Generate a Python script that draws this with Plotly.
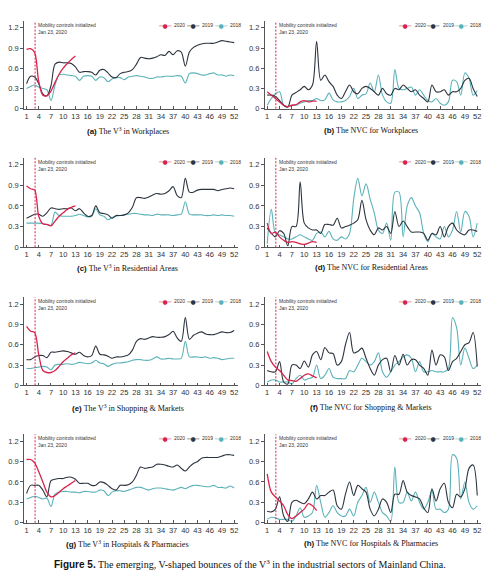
import plotly.graph_objects as go

weeks = list(range(1, 53))
weeks_2020 = list(range(1, 14))
tick_weeks = list(range(1, 53, 3))
y_ticks = [0, 0.3, 0.6, 0.9, 1.2]

# (a) V3 Workplaces
a_2020 = [0.88, 0.89, 0.83, 0.40, 0.20, 0.19, 0.26, 0.39, 0.51, 0.60, 0.67, 0.73, 0.78]
a_2019 = [0.37, 0.48, 0.47, 0.37, 0.22, 0.19, 0.34, 0.66, 0.69, 0.68, 0.68, 0.67, 0.62, 0.54, 0.55, 0.55, 0.54, 0.50, 0.57, 0.58, 0.53, 0.47, 0.46, 0.52, 0.54, 0.55, 0.58, 0.66, 0.76, 0.75, 0.74, 0.75, 0.77, 0.80, 0.79, 0.85, 0.80, 0.86, 0.84, 0.63, 0.84, 0.91, 0.94, 0.96, 0.97, 0.97, 0.97, 0.99, 1.01, 1.00, 0.99, 0.98]
a_2018 = [0.30, 0.33, 0.35, 0.32, 0.30, 0.28, 0.12, 0.35, 0.50, 0.51, 0.50, 0.49, 0.48, 0.42, 0.48, 0.49, 0.48, 0.42, 0.47, 0.46, 0.40, 0.44, 0.46, 0.46, 0.43, 0.47, 0.48, 0.49, 0.48, 0.47, 0.45, 0.45, 0.47, 0.47, 0.48, 0.48, 0.48, 0.49, 0.48, 0.38, 0.52, 0.53, 0.52, 0.50, 0.50, 0.52, 0.53, 0.50, 0.50, 0.48, 0.50, 0.49]

# (b) NVC Workplaces
b_2020 = [0.25, 0.20, 0.15, 0.10, 0.05, 0.03, 0.05, 0.06, 0.10, 0.12, 0.10, 0.11, 0.11]
b_2019 = [0.20, 0.20, 0.18, 0.12, 0.05, 0.02, 0.20, 0.24, 0.28, 0.33, 0.28, 0.35, 1.00, 0.42, 0.50, 0.40, 0.33, 0.20, 0.15, 0.25, 0.35, 0.25, 0.22, 0.30, 0.33, 0.30, 0.25, 0.20, 0.30, 0.22, 0.20, 0.30, 0.28, 0.35, 0.30, 0.25, 0.28, 0.20, 0.15, 0.10, 0.35, 0.25, 0.25, 0.28, 0.20, 0.25, 0.25, 0.30, 0.42, 0.45, 0.30, 0.18]
b_2018 = [0.05, 0.15, 0.22, 0.25, 0.05, 0.03, 0.05, 0.05, 0.08, 0.10, 0.12, 0.12, 0.15, 0.12, 0.13, 0.23, 0.13, 0.10, 0.10, 0.12, 0.18, 0.30, 0.15, 0.20, 0.22, 0.38, 0.25, 0.50, 0.20, 0.10, 0.08, 0.58, 0.30, 0.28, 0.30, 0.32, 0.20, 0.28, 0.20, 0.12, 0.10, 0.15, 0.08, 0.05, 0.10, 0.42, 0.40, 0.20, 0.53, 0.45, 0.20, 0.27]

# (c) V3 Residential
c_2020 = [0.89, 0.85, 0.83, 0.45, 0.34, 0.33, 0.31, 0.38, 0.45, 0.50, 0.55, 0.58, 0.60]
c_2019 = [0.42, 0.45, 0.48, 0.48, 0.45, 0.50, 0.57, 0.56, 0.55, 0.56, 0.56, 0.57, 0.53, 0.56, 0.50, 0.45, 0.46, 0.60, 0.50, 0.49, 0.47, 0.42, 0.46, 0.46, 0.47, 0.50, 0.58, 0.72, 0.72, 0.71, 0.73, 0.76, 0.78, 0.77, 0.78, 0.82, 0.88, 0.75, 0.72, 1.00, 0.80, 0.80, 0.83, 0.84, 0.84, 0.84, 0.84, 0.82, 0.84, 0.85, 0.86, 0.85]
c_2018 = [0.35, 0.35, 0.35, 0.35, 0.34, 0.33, 0.32, 0.51, 0.46, 0.45, 0.45, 0.45, 0.46, 0.48, 0.46, 0.44, 0.45, 0.56, 0.47, 0.45, 0.40, 0.43, 0.45, 0.46, 0.47, 0.48, 0.49, 0.49, 0.48, 0.47, 0.47, 0.46, 0.48, 0.47, 0.47, 0.47, 0.46, 0.47, 0.48, 0.66, 0.48, 0.47, 0.47, 0.47, 0.46, 0.46, 0.47, 0.46, 0.47, 0.46, 0.46, 0.45]

# (d) NVC Residential
d_2020 = [0.35, 0.20, 0.22, 0.15, 0.10, 0.07, 0.08, 0.07, 0.05, 0.04, 0.06, 0.08, 0.07]
d_2019 = [0.28, 0.20, 0.15, 0.24, 0.20, 0.02, 0.30, 0.30, 0.95, 0.35, 0.28, 0.25, 0.25, 0.20, 0.33, 0.33, 0.32, 0.42, 0.28, 0.30, 0.32, 0.35, 0.40, 0.68, 0.40, 0.25, 0.18, 0.28, 0.25, 0.30, 0.20, 0.52, 0.30, 0.38, 0.30, 0.22, 0.22, 0.22, 0.20, 0.10, 0.20, 0.18, 0.30, 0.15, 0.30, 0.35, 0.25, 0.20, 0.18, 0.25, 0.25, 0.23]
d_2018 = [0.05, 0.55, 0.20, 0.18, 0.15, 0.12, 0.12, 0.15, 0.18, 0.15, 0.12, 0.10, 0.20, 0.22, 0.15, 0.23, 0.12, 0.10, 0.15, 0.12, 0.20, 0.70, 1.00, 0.75, 0.92, 0.70, 0.50, 0.25, 0.20, 0.35, 0.10, 0.80, 0.80, 0.15, 0.60, 0.72, 0.60, 0.50, 0.20, 0.08, 0.20, 0.15, 0.12, 0.30, 0.15, 0.25, 0.52, 0.22, 0.52, 0.45, 0.15, 0.35]

# (e) V3 Shopping & Markets
e_2020 = [0.87, 0.80, 0.78, 0.45, 0.22, 0.19, 0.19, 0.22, 0.28, 0.35, 0.40, 0.45, 0.48]
e_2019 = [0.38, 0.38, 0.42, 0.44, 0.44, 0.41, 0.49, 0.49, 0.50, 0.51, 0.50, 0.48, 0.46, 0.49, 0.44, 0.42, 0.44, 0.58, 0.46, 0.45, 0.43, 0.40, 0.42, 0.42, 0.43, 0.45, 0.52, 0.65, 0.69, 0.68, 0.70, 0.72, 0.71, 0.71, 0.72, 0.75, 0.80, 0.70, 0.65, 1.00, 0.68, 0.74, 0.77, 0.79, 0.76, 0.75, 0.75, 0.77, 0.79, 0.78, 0.78, 0.81]
e_2018 = [0.25, 0.25, 0.26, 0.27, 0.28, 0.27, 0.23, 0.30, 0.31, 0.31, 0.32, 0.31, 0.32, 0.34, 0.33, 0.32, 0.33, 0.37, 0.33, 0.32, 0.28, 0.31, 0.33, 0.33, 0.34, 0.35, 0.37, 0.38, 0.38, 0.37, 0.37, 0.39, 0.42, 0.39, 0.39, 0.40, 0.39, 0.39, 0.40, 0.65, 0.42, 0.42, 0.42, 0.41, 0.42, 0.40, 0.41, 0.40, 0.38, 0.39, 0.40, 0.40]

# (f) NVC Shopping & Markets
f_2020 = [0.50, 0.35, 0.27, 0.22, 0.15, 0.08, 0.07, 0.06, 0.10, 0.15, 0.17, 0.14, 0.11]
f_2019 = [0.22, 0.20, 0.20, 0.35, 0.05, 0.02, 0.30, 0.30, 0.25, 0.36, 0.27, 0.45, 0.50, 0.38, 0.56, 0.48, 0.47, 0.30, 0.35, 0.60, 0.78, 0.48, 0.50, 0.55, 0.40, 0.25, 0.15, 0.30, 0.38, 0.40, 0.20, 0.44, 0.30, 0.46, 0.30, 0.38, 0.38, 0.30, 0.25, 0.15, 0.52, 0.30, 0.45, 0.42, 0.22, 0.35, 0.40, 0.50, 0.60, 0.63, 0.78, 0.28]
f_2018 = [0.05, 0.08, 0.08, 0.05, 0.05, 0.05, 0.02, 0.10, 0.15, 0.08, 0.10, 0.12, 0.30, 0.10, 0.15, 0.25, 0.12, 0.10, 0.10, 0.10, 0.22, 0.20, 0.30, 0.40, 0.35, 0.30, 0.35, 0.48, 0.20, 0.12, 0.20, 0.30, 0.35, 0.42, 0.45, 0.40, 0.20, 0.35, 0.20, 0.20, 0.22, 0.20, 0.20, 0.20, 0.25, 1.00, 0.85, 0.30, 0.55, 0.40, 0.25, 0.30]

# (g) V3 Hospitals & Pharmacies
g_2020 = [0.93, 0.93, 0.88, 0.75, 0.60, 0.45, 0.38, 0.40, 0.45, 0.50, 0.54, 0.58, 0.62]
g_2019 = [0.43, 0.55, 0.55, 0.55, 0.48, 0.38, 0.62, 0.64, 0.65, 0.65, 0.67, 0.67, 0.64, 0.58, 0.58, 0.58, 0.55, 0.55, 0.60, 0.59, 0.55, 0.50, 0.48, 0.55, 0.55, 0.56, 0.60, 0.70, 0.82, 0.80, 0.81, 0.82, 0.86, 0.86, 0.85, 0.83, 0.82, 0.85, 0.80, 0.76, 0.82, 0.87, 0.90, 0.95, 0.96, 0.96, 0.96, 0.96, 0.98, 1.00, 1.00, 0.99]
g_2018 = [0.35, 0.37, 0.39, 0.37, 0.35, 0.36, 0.24, 0.42, 0.45, 0.46, 0.46, 0.45, 0.45, 0.44, 0.46, 0.46, 0.45, 0.45, 0.48, 0.47, 0.40, 0.45, 0.47, 0.47, 0.46, 0.48, 0.50, 0.52, 0.52, 0.50, 0.48, 0.50, 0.51, 0.51, 0.50, 0.49, 0.48, 0.50, 0.52, 0.50, 0.53, 0.55, 0.55, 0.54, 0.53, 0.53, 0.55, 0.52, 0.52, 0.51, 0.54, 0.51]

# (h) NVC Hospitals & Pharmacies
h_2020 = [0.72, 0.45, 0.38, 0.32, 0.25, 0.12, 0.06, 0.10, 0.15, 0.20, 0.28, 0.25, 0.18]
h_2019 = [0.17, 0.16, 0.20, 0.38, 0.10, 0.02, 0.30, 0.33, 0.30, 0.28, 0.35, 0.45, 0.35, 0.40, 0.40, 0.45, 0.48, 0.25, 0.20, 0.42, 0.60, 0.40, 0.55, 0.50, 0.45, 0.20, 0.10, 0.20, 0.35, 0.30, 0.15, 0.42, 0.42, 0.62, 0.45, 0.40, 0.38, 0.35, 0.22, 0.15, 0.50, 0.32, 0.50, 0.58, 0.30, 0.22, 0.42, 0.38, 0.50, 0.80, 0.85, 0.40]
h_2018 = [0.05, 0.08, 0.07, 0.05, 0.05, 0.05, 0.02, 0.10, 0.22, 0.08, 0.10, 0.15, 0.55, 0.30, 0.08, 0.15, 0.25, 0.15, 0.10, 0.10, 0.20, 0.10, 0.30, 0.40, 0.52, 0.30, 0.45, 0.30, 0.15, 0.10, 0.02, 0.82, 0.30, 0.30, 0.45, 0.32, 0.45, 0.30, 0.20, 0.30, 0.48, 0.20, 0.20, 0.15, 0.20, 1.00, 0.95, 0.35, 0.60, 0.30, 0.20, 0.25]

panels = [
    ("a", "The V<sup>3</sup> in Workplaces", a_2020, a_2019, a_2018),
    ("b", "The NVC for Workplaces", b_2020, b_2019, b_2018),
    ("c", "The V<sup>3</sup> in Residential Areas", c_2020, c_2019, c_2018),
    ("d", "The NVC for Residential Areas", d_2020, d_2019, d_2018),
    ("e", "The V<sup>3</sup> in Shopping &amp; Markets", e_2020, e_2019, e_2018),
    ("f", "The NVC for Shopping &amp; Markets", f_2020, f_2019, f_2018),
    ("g", "The V<sup>3</sup> in Hospitals &amp; Pharmacies", g_2020, g_2019, g_2018),
    ("h", "The NVC for Hospitals &amp; Pharmacies", h_2020, h_2019, h_2018),
]
legend_names = ["2020", "2019", "2018"]

C2020 = "#d8244c"
C2019 = "#2c343f"
C2018 = "#5bb3b9"
COLORS = {"2020": C2020, "2019": C2019, "2018": C2018}
SANS = "Liberation Sans"
SERIF = "Liberation Serif"

# the page body adds an 8px offset; lay out in window pixels and convert
OFF = 8
W, H = 500 - OFF, 579 - OFF


def fx(px):
    return (px - OFF) / W


def fy(py):
    return 1 - (py - OFF) / H


col_px = [(20.2, 236.1), (262.8, 481.2)]
row_px = [(21.2, 109.5), (159.1, 249.3), (299.9, 388.7), (438.1, 527.3)]
caption_px = [132, 270, 411.5, 548.5]
caption_cx = [124.5, 370]
legend_offsets = [(-74.3, -46.0, -17.7), (-76.7, -48.3, -21.0)]

fig = go.Figure()
layout = dict(
    width=W, height=H, margin=dict(l=0, r=0, t=0, b=0),
    paper_bgcolor="white", plot_bgcolor="white", showlegend=False,
    font=dict(family=SANS, size=7, color="#333333"),
    annotations=[], shapes=[],
)

for i, (letter, title, s20, s19, s18) in enumerate(panels):
    r, c = divmod(i, 2)
    n = i + 1
    xa = "x" if n == 1 else f"x{n}"
    ya = "y" if n == 1 else f"y{n}"
    for name, xs, ys in [("2018", weeks, s18), ("2019", weeks, s19), ("2020", weeks_2020, s20)]:
        fig.add_trace(go.Scatter(
            x=xs, y=ys, mode="lines", name=name, xaxis=xa, yaxis=ya,
            line=dict(color=COLORS[name], width=1.3 if name == "2020" else 1.1,
                      shape="spline", smoothing=0.9),
            hoverinfo="skip"))
    axkey = "xaxis" if n == 1 else f"xaxis{n}"
    aykey = "yaxis" if n == 1 else f"yaxis{n}"
    x0, x1 = col_px[c]
    top, bot = row_px[r]
    layout[axkey] = dict(
        domain=[fx(x0), fx(x1)], anchor=ya, range=[0.4, 53], tickvals=tick_weeks,
        showgrid=False, zeroline=False, showline=True, linecolor="#555555", linewidth=0.8,
        ticks="inside", ticklen=2.5, tickwidth=0.7, tickcolor="#555555",
        tickfont=dict(size=7.5, family=SANS, color="#333333"))
    layout[aykey] = dict(
        domain=[fy(bot), fy(top)], anchor=xa, range=[0, 1.3], tickvals=y_ticks,
        showgrid=False, zeroline=False, showline=True, linecolor="#555555", linewidth=0.8,
        ticks="outside", ticklen=3, tickwidth=0.7, tickcolor="#555555",
        tickfont=dict(size=7.5, family=SANS, color="#333333"))
    layout["shapes"].append(dict(
        type="line", xref=xa, yref=f"{ya} domain", x0=3.1, x1=3.1, y0=0, y1=1,
        line=dict(color=C2020, width=1, dash="2px,1.5px")))
    layout["annotations"].append(dict(
        xref=xa, yref=f"{ya} domain", x=3.1, y=1.0, xanchor="left", yanchor="top",
        xshift=1, yshift=1, showarrow=False, align="left",
        text="Mobility controls initialized<br>Jan 23, 2020",
        font=dict(size=5, family=SANS, color="#333333")))
    # legend entries
    ly = fy(top + 4)
    for name, off in zip(legend_names, legend_offsets[c]):
        cx = fx(x1 + off)
        layout["annotations"].append(dict(
            xref="paper", yref="paper", x=cx, y=ly, xanchor="center", yanchor="middle",
            showarrow=False, text="─●─",
            font=dict(size=6, family="DejaVu Sans", color=COLORS[name])))
        layout["annotations"].append(dict(
            xref="paper", yref="paper", x=cx + 7.5 / W, y=ly, xanchor="left", yanchor="middle",
            showarrow=False, text=name,
            font=dict(size=5, family=SANS, color="#333333")))
    layout["annotations"].append(dict(
        xref="paper", yref="paper", x=fx(caption_cx[c]), y=fy(caption_px[r]),
        xanchor="center", yanchor="middle", showarrow=False,
        text=f"<span style='font-family:{SANS}'><b>({letter})</b></span> {title}",
        font=dict(size=8, family=SERIF, color="#111111")))

layout["annotations"].append(dict(
    xref="paper", yref="paper", x=fx(248), y=fy(568.5), xanchor="center", yanchor="middle",
    showarrow=False,
    text=f"<span style='font-family:{SANS}'><b>Figure 5.</b></span> The emerging, V-shaped bounces of the V<sup>3</sup> in the industrial sectors of Mainland China.",
    font=dict(size=10, family=SERIF, color="#111111")))

fig.update_layout(**layout)
fig.write_html("out.html")
